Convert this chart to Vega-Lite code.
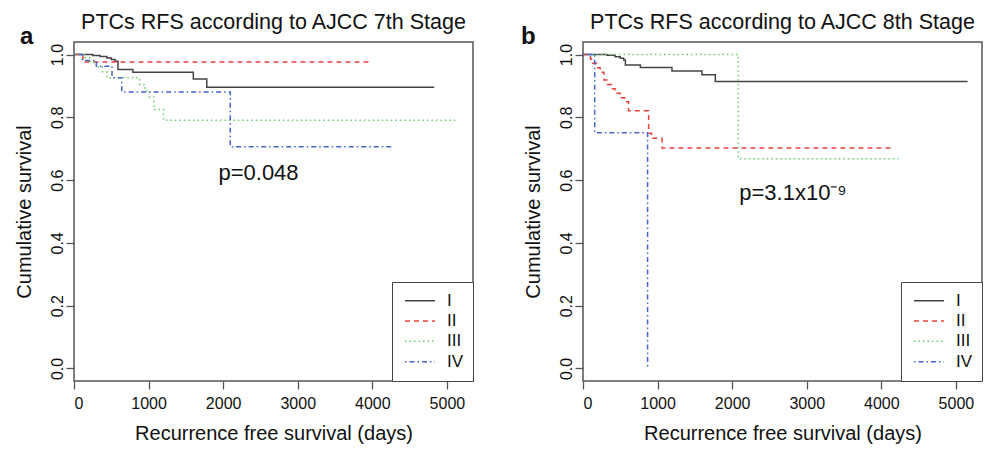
{
  "$schema": "https://vega.github.io/schema/vega-lite/v6.json",
  "background": "white",
  "padding": {"left": 13, "top": 11, "right": 8, "bottom": 2},
  "config": {
    "font": "Liberation Sans",
    "view": {"stroke": "#555", "strokeWidth": 1.5},
    "axis": {"grid": false, "domain": false, "tickColor": "#555", "tickWidth": 1.3, "tickSize": 8, "labelFontSize": 16, "labelColor": "#111", "titleFontSize": 20, "titleFontWeight": "normal", "titleColor": "#111"},
    "title": {"fontSize": 21.5, "fontWeight": "normal", "color": "#111", "anchor": "middle", "offset": -9},
    "text": {"color": "#111"}
  },
  "datasets": {
    "km": [
      {"panel": "a", "stage": "I", "days": 0, "surv": 1.0},
      {"panel": "a", "stage": "I", "days": 250, "surv": 0.997},
      {"panel": "a", "stage": "I", "days": 350, "surv": 0.994},
      {"panel": "a", "stage": "I", "days": 440, "surv": 0.989},
      {"panel": "a", "stage": "I", "days": 500, "surv": 0.984},
      {"panel": "a", "stage": "I", "days": 550, "surv": 0.979},
      {"panel": "a", "stage": "I", "days": 590, "surv": 0.952},
      {"panel": "a", "stage": "I", "days": 790, "surv": 0.944},
      {"panel": "a", "stage": "I", "days": 1600, "surv": 0.922},
      {"panel": "a", "stage": "I", "days": 1780, "surv": 0.896},
      {"panel": "a", "stage": "I", "days": 4830, "surv": 0.896},
      {"panel": "a", "stage": "II", "days": 0, "surv": 1.0},
      {"panel": "a", "stage": "II", "days": 120, "surv": 0.976},
      {"panel": "a", "stage": "II", "days": 3972, "surv": 0.976},
      {"panel": "a", "stage": "III", "days": 0, "surv": 1.0},
      {"panel": "a", "stage": "III", "days": 150, "surv": 0.99},
      {"panel": "a", "stage": "III", "days": 220, "surv": 0.975},
      {"panel": "a", "stage": "III", "days": 300, "surv": 0.96},
      {"panel": "a", "stage": "III", "days": 380, "surv": 0.945},
      {"panel": "a", "stage": "III", "days": 440, "surv": 0.926},
      {"panel": "a", "stage": "III", "days": 880, "surv": 0.905},
      {"panel": "a", "stage": "III", "days": 950, "surv": 0.885},
      {"panel": "a", "stage": "III", "days": 1010, "surv": 0.865},
      {"panel": "a", "stage": "III", "days": 1070, "surv": 0.825},
      {"panel": "a", "stage": "III", "days": 1200, "surv": 0.791},
      {"panel": "a", "stage": "III", "days": 5125, "surv": 0.791},
      {"panel": "a", "stage": "IV", "days": 0, "surv": 1.0},
      {"panel": "a", "stage": "IV", "days": 110, "surv": 0.981},
      {"panel": "a", "stage": "IV", "days": 300, "surv": 0.963},
      {"panel": "a", "stage": "IV", "days": 510, "surv": 0.926},
      {"panel": "a", "stage": "IV", "days": 640, "surv": 0.881},
      {"panel": "a", "stage": "IV", "days": 2095, "surv": 0.706},
      {"panel": "a", "stage": "IV", "days": 4263, "surv": 0.706},
      {"panel": "b", "stage": "I", "days": 0, "surv": 1.0},
      {"panel": "b", "stage": "I", "days": 320, "surv": 0.998},
      {"panel": "b", "stage": "I", "days": 430, "surv": 0.993},
      {"panel": "b", "stage": "I", "days": 500, "surv": 0.988},
      {"panel": "b", "stage": "I", "days": 546, "surv": 0.983},
      {"panel": "b", "stage": "I", "days": 568, "surv": 0.967},
      {"panel": "b", "stage": "I", "days": 769, "surv": 0.959},
      {"panel": "b", "stage": "I", "days": 1193, "surv": 0.948},
      {"panel": "b", "stage": "I", "days": 1595, "surv": 0.936},
      {"panel": "b", "stage": "I", "days": 1774, "surv": 0.914},
      {"panel": "b", "stage": "I", "days": 5157, "surv": 0.914},
      {"panel": "b", "stage": "II", "days": 0, "surv": 1.0},
      {"panel": "b", "stage": "II", "days": 100, "surv": 0.985},
      {"panel": "b", "stage": "II", "days": 130, "surv": 0.972},
      {"panel": "b", "stage": "II", "days": 180, "surv": 0.958},
      {"panel": "b", "stage": "II", "days": 230, "surv": 0.944},
      {"panel": "b", "stage": "II", "days": 280, "surv": 0.919},
      {"panel": "b", "stage": "II", "days": 330, "surv": 0.905},
      {"panel": "b", "stage": "II", "days": 380, "surv": 0.891},
      {"panel": "b", "stage": "II", "days": 430, "surv": 0.877},
      {"panel": "b", "stage": "II", "days": 500, "surv": 0.862},
      {"panel": "b", "stage": "II", "days": 560, "surv": 0.85},
      {"panel": "b", "stage": "II", "days": 610, "surv": 0.821},
      {"panel": "b", "stage": "II", "days": 880, "surv": 0.749},
      {"panel": "b", "stage": "II", "days": 920, "surv": 0.733},
      {"panel": "b", "stage": "II", "days": 1060, "surv": 0.702},
      {"panel": "b", "stage": "II", "days": 4142, "surv": 0.702},
      {"panel": "b", "stage": "III", "days": 0, "surv": 1.0},
      {"panel": "b", "stage": "III", "days": 2083, "surv": 0.668},
      {"panel": "b", "stage": "III", "days": 4230, "surv": 0.668},
      {"panel": "b", "stage": "IV", "days": 0, "surv": 1.0},
      {"panel": "b", "stage": "IV", "days": 157, "surv": 0.751},
      {"panel": "b", "stage": "IV", "days": 866, "surv": 0.0}
    ]
  },
  "hconcat": [
    {
      "width": 399,
      "height": 339,
      "title": {"text": "PTCs RFS according to AJCC 7th Stage"},
      "layer": [
        {
          "data": {"name": "km"},
          "transform": [{"filter": "datum.panel === 'a'"}],
          "mark": {"type": "line", "interpolate": "step-after", "strokeWidth": 1.5},
          "encoding": {
            "x": {"field": "days", "type": "quantitative", "scale": {"domain": [0, 5350], "nice": false, "zero": false}, "axis": {"values": [0, 1000, 2000, 3000, 4000, 5000], "format": "d", "title": "Recurrence free survival (days)", "labelPadding": 6, "titlePadding": 12}},
            "y": {"field": "surv", "type": "quantitative", "scale": {"domain": [-0.04, 1.04], "nice": false}, "axis": {"values": [0, 0.2, 0.4, 0.6, 0.8, 1], "format": ".1f", "labelAngle": -90, "title": "Cumulative survival", "labelPadding": 1, "titlePadding": 15}},
            "color": {"field": "stage", "type": "nominal", "scale": {"domain": ["I", "II", "III", "IV"], "range": ["#444444", "#e8413c", "#6acc6a", "#4466cc"]}, "legend": {"title": null, "orient": "bottom-right", "offset": 0, "symbolType": "stroke", "symbolSize": 900, "symbolStrokeWidth": 1.5, "symbolOffset": 3, "labelFontSize": 17, "labelOffset": 11, "padding": 9, "rowPadding": 0.3, "clipHeight": 19.5, "strokeColor": "#444", "fillColor": "white", "labelColor": "#111"}},
            "strokeDash": {"field": "stage", "type": "nominal", "scale": {"domain": ["I", "II", "III", "IV"], "range": [[1, 0], [5, 4], [1.5, 3], [1.5, 3, 5, 3]]}, "legend": {"title": null, "orient": "bottom-right", "offset": 0, "symbolType": "stroke", "symbolSize": 900, "symbolStrokeWidth": 1.5, "symbolOffset": 3, "labelFontSize": 17, "labelOffset": 11, "padding": 9, "rowPadding": 0.3, "clipHeight": 19.5, "strokeColor": "#444", "fillColor": "white", "labelColor": "#111"}}
          }
        },
        {
          "data": {"values": [{"label": "p=0.048"}]},
          "mark": {"type": "text", "fontSize": 22, "align": "center", "baseline": "middle"},
          "encoding": {"text": {"field": "label"}, "x": {"datum": 2474}, "y": {"datum": 0.624}}
        },
        {
          "data": {"values": [{"label": "a"}]},
          "mark": {"type": "text", "fontSize": 24, "fontWeight": "bold", "align": "left", "baseline": "alphabetic", "clip": false},
          "encoding": {"text": {"field": "label"}, "x": {"datum": -724}, "y": {"datum": 1.035}}
        }
      ]
    },
    {
      "width": 399,
      "height": 339,
      "title": {"text": "PTCs RFS according to AJCC 8th Stage"},
      "layer": [
        {
          "data": {"name": "km"},
          "transform": [{"filter": "datum.panel === 'b'"}],
          "mark": {"type": "line", "interpolate": "step-after", "strokeWidth": 1.5},
          "encoding": {
            "x": {"field": "days", "type": "quantitative", "scale": {"domain": [0, 5350], "nice": false, "zero": false}, "axis": {"values": [0, 1000, 2000, 3000, 4000, 5000], "format": "d", "title": "Recurrence free survival (days)", "labelPadding": 6, "titlePadding": 12}},
            "y": {"field": "surv", "type": "quantitative", "scale": {"domain": [-0.04, 1.04], "nice": false}, "axis": {"values": [0, 0.2, 0.4, 0.6, 0.8, 1], "format": ".1f", "labelAngle": -90, "title": "Cumulative survival", "labelPadding": 1, "titlePadding": 15}},
            "color": {"field": "stage", "type": "nominal", "scale": {"domain": ["I", "II", "III", "IV"], "range": ["#444444", "#e8413c", "#6acc6a", "#4466cc"]}, "legend": {"title": null, "orient": "bottom-right", "offset": 0, "symbolType": "stroke", "symbolSize": 900, "symbolStrokeWidth": 1.5, "symbolOffset": 3, "labelFontSize": 17, "labelOffset": 11, "padding": 9, "rowPadding": 0.3, "clipHeight": 19.5, "strokeColor": "#444", "fillColor": "white", "labelColor": "#111"}},
            "strokeDash": {"field": "stage", "type": "nominal", "scale": {"domain": ["I", "II", "III", "IV"], "range": [[1, 0], [5, 4], [1.5, 3], [1.5, 3, 5, 3]]}, "legend": {"title": null, "orient": "bottom-right", "offset": 0, "symbolType": "stroke", "symbolSize": 900, "symbolStrokeWidth": 1.5, "symbolOffset": 3, "labelFontSize": 17, "labelOffset": 11, "padding": 9, "rowPadding": 0.3, "clipHeight": 19.5, "strokeColor": "#444", "fillColor": "white", "labelColor": "#111"}}
          }
        },
        {
          "data": {"values": [{"label": "p=3.1x10⁻⁹"}]},
          "mark": {"type": "text", "fontSize": 22, "align": "center", "baseline": "middle"},
          "encoding": {"text": {"field": "label"}, "x": {"datum": 2816}, "y": {"datum": 0.559}}
        },
        {
          "data": {"values": [{"label": "b"}]},
          "mark": {"type": "text", "fontSize": 24, "fontWeight": "bold", "align": "left", "baseline": "alphabetic", "clip": false},
          "encoding": {"text": {"field": "label"}, "x": {"datum": -830}, "y": {"datum": 1.035}}
        }
      ]
    }
  ],
  "spacing": 110,
  "bounds": "flush",
  "resolve": {
    "scale": {"color": "independent", "strokeDash": "independent", "x": "independent", "y": "independent"},
    "legend": {"color": "independent", "strokeDash": "independent"}
  }
}
